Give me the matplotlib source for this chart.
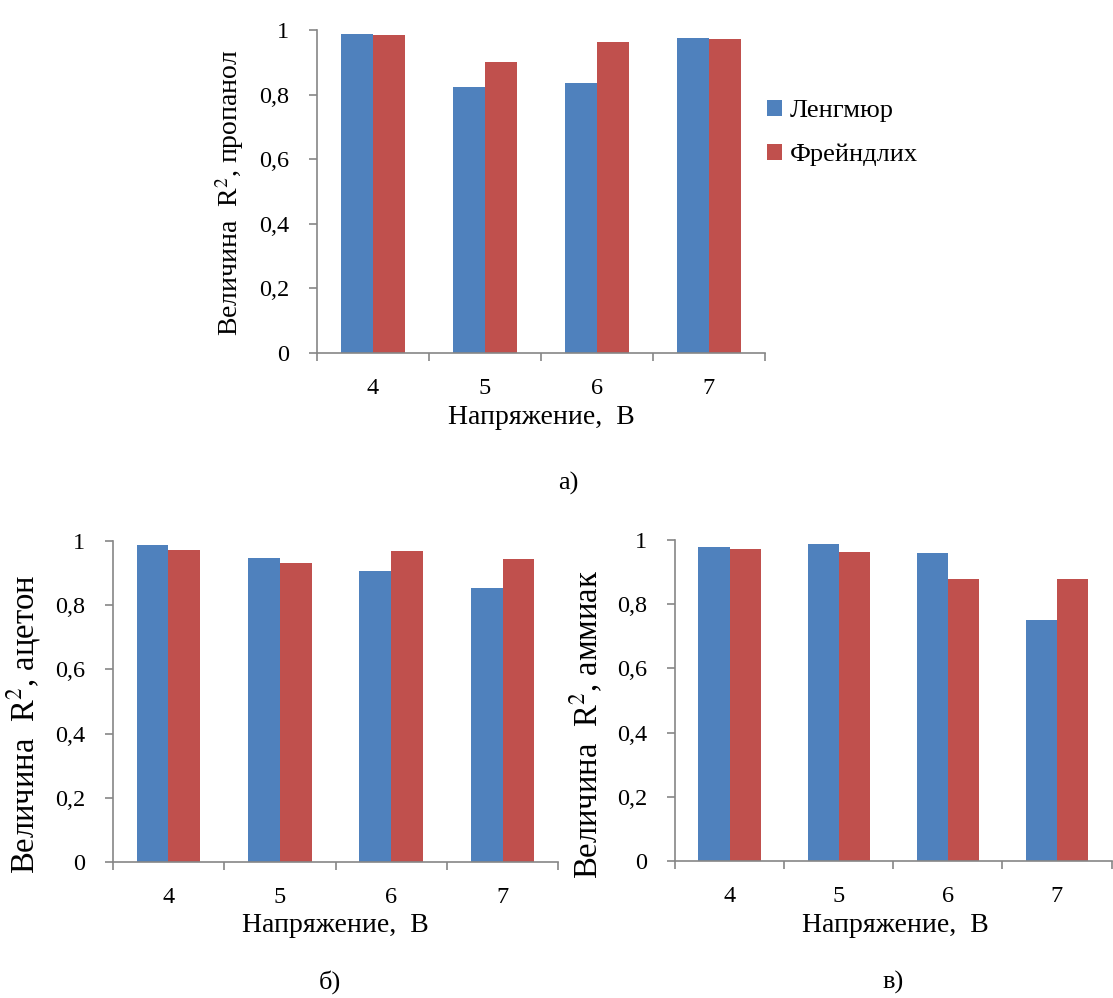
import numpy as np
import matplotlib
matplotlib.use('Agg')
import matplotlib.pyplot as plt
from matplotlib.ticker import FixedLocator, NullFormatter, FuncFormatter

plt.rcParams['font.family'] = ['Liberation Serif', 'DejaVu Serif']
plt.rcParams['mathtext.fontset'] = 'stix'

voltages = ['4', '5', '6', '7']
series_names = ['Ленгмюр', 'Фрейндлих']
colors = ['#4F81BD', '#C0504D']

propanol_langmuir = [0.987, 0.824, 0.836, 0.974]
propanol_freundlich = [0.983, 0.900, 0.963, 0.971]
acetone_langmuir = [0.988, 0.946, 0.905, 0.853]
acetone_freundlich = [0.970, 0.931, 0.969, 0.943]
ammonia_langmuir = [0.979, 0.987, 0.960, 0.751]
ammonia_freundlich = [0.971, 0.964, 0.878, 0.878]

yticks = [0, 0.2, 0.4, 0.6, 0.8, 1.0]
xlabel = 'Напряжение,  В'

W, H = 1113, 998
fig = plt.figure(figsize=(W / 100, H / 100), dpi=100)


def rect(left, right, top, bottom):
    return [left / W, 1 - bottom / H, (right - left) / W, (bottom - top) / H]


def px(x, y):
    return x / W, 1 - y / H


def draw(ax, langmuir, freundlich):
    x = np.arange(len(voltages))
    bw = 1 / 3.5
    ax.bar(x - bw / 2, langmuir, bw, color=colors[0], label=series_names[0])
    ax.bar(x + bw / 2, freundlich, bw, color=colors[1], label=series_names[1])
    ax.set_xlim(-0.5, len(voltages) - 0.5)
    ax.set_ylim(0, 1)
    for s in ['top', 'right']:
        ax.spines[s].set_visible(False)
    for s in ['left', 'bottom']:
        ax.spines[s].set_color('#868686')
        ax.spines[s].set_linewidth(1.2)
    ax.yaxis.set_major_locator(FixedLocator(yticks))
    ax.yaxis.set_major_formatter(FuncFormatter(lambda v, p: ('%g' % v).replace('.', ',')))
    ax.tick_params(axis='y', direction='out', length=6, width=1.2, color='#868686',
                   labelsize=17.5, pad=14)
    ax.xaxis.set_major_locator(FixedLocator(np.arange(-0.5, len(voltages), 1.0)))
    ax.xaxis.set_major_formatter(NullFormatter())
    ax.xaxis.set_minor_locator(FixedLocator(x))
    ax.set_xticklabels(voltages, minor=True)
    ax.tick_params(axis='x', which='major', direction='out', length=6, width=1.2,
                   color='#868686')
    ax.tick_params(axis='x', which='minor', length=0, labelsize=17.5, pad=18)


ax1 = fig.add_axes(rect(316.7, 765, 30, 352.7))
draw(ax1, propanol_langmuir, propanol_freundlich)
fig.text(*px(230, 193), r'Величина  R$^{2}$, пропанол', rotation=90, fontsize=20,
         ha='center', va='center')
fig.text(*px(541, 418), xlabel, fontsize=20, ha='center', va='center')

ax2 = fig.add_axes(rect(112.7, 558.3, 540.7, 862.3))
draw(ax2, acetone_langmuir, acetone_freundlich)
fig.text(*px(24, 724), r'Величина  R$^{2}$, ацетон', rotation=90, fontsize=23.5,
         ha='center', va='center')
fig.text(*px(335, 925), xlabel, fontsize=20, ha='center', va='center')

ax3 = fig.add_axes(rect(675, 1111.5, 540, 861))
draw(ax3, ammonia_langmuir, ammonia_freundlich)
fig.text(*px(586, 724), r'Величина  R$^{2}$, аммиак', rotation=90, fontsize=23.5,
         ha='center', va='center')
fig.text(*px(895, 925), xlabel, fontsize=20, ha='center', va='center')

handles, labels = ax1.get_legend_handles_labels()
fig.legend(handles, labels, loc='upper left', bbox_to_anchor=px(767, 100),
           frameon=False, fontsize=19, handlelength=0.55, handleheight=0.55,
           handletextpad=0.3, labelspacing=0.8, borderpad=0, borderaxespad=0)

fig.text(*px(568, 483), 'а)', fontsize=19, ha='center', va='center')
fig.text(*px(330, 982), 'б)', fontsize=19, ha='center', va='center')
fig.text(*px(893, 982), 'в)', fontsize=19, ha='center', va='center')

fig.savefig('out.png', dpi=100)
